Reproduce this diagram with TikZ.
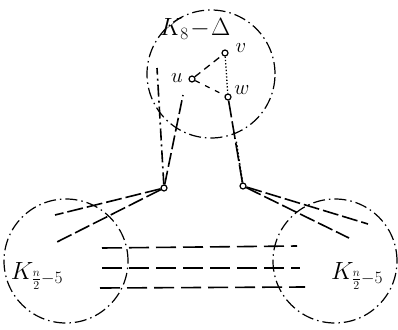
\documentclass[tikz,border=0pt]{standalone}
\begin{document}
\begin{tikzpicture}[x=1pt, y=-1pt, line width=1.6pt, >=stealth,
  every node/.style={inner sep=0pt},
  vtx/.style={circle, draw, minimum size=6pt, line width=1.2pt},
  clique/.style={circle, draw, line width=1.2pt, dash pattern=on 12pt off 4pt on 1.5pt off 4pt, minimum size=124pt},
  vlbl/.style={font=\fontsize{21}{25}\selectfont},
  klbl/.style={font=\fontsize{26}{30}\selectfont},
  longdash/.style={dash pattern=on 16pt off 4pt},
  rowdash/.style={dash pattern=on 20pt off 7pt}]
  \useasboundingbox (0,0) rectangle (398,329);

  % the three cliques
  \node[clique, minimum size=128pt] (top) at (211,74) {};
  \node[clique] (left) at (66,261) {};
  \node[clique] (right) at (335,261) {};
  \node[klbl] (ktop) at (195,29) {$K_8\!-\!\Delta$};
  \node[klbl] (kleft) at (37,276) {$K_{\frac{n}{2}-5}$};
  \node[klbl] (kright) at (357,276) {$K_{\frac{n}{2}-5}$};

  % vertices
  \node[vtx] (u) at (192,79) {};
  \node[vtx] (v) at (225,53) {};
  \node[vtx] (w) at (228,97) {};
  \node[vtx] (a) at (164,188) {};
  \node[vtx] (b) at (243,186) {};
  \node[vlbl] (ul) at (177,78) {$u$};
  \node[vlbl] (vl) at (241,48) {$v$};
  \node[vlbl] (wl) at (242,90) {$w$};

  % free ends
  \coordinate (ta) at (157,68);
  \coordinate (tu) at (183,95);
  \coordinate (tb) at (236,140);
  \coordinate (la1) at (55,215);
  \coordinate (la2) at (55,243);
  \coordinate (rb1) at (368,224);
  \coordinate (rb2) at (349,238);
  \coordinate (h1l) at (102,248);
  \coordinate (h1r) at (297,246);
  \coordinate (h2l) at (102,268);
  \coordinate (h2r) at (300,268);
  \coordinate (h3l) at (100,288);
  \coordinate (h3r) at (305,287);

  \draw[line width=1.3pt, dash pattern=on 7pt off 5pt] (u) -- (v);
  \draw[line width=1.3pt, dotted] (v) -- (w);
  \draw[line width=1.3pt, dash pattern=on 5pt off 6pt] (u) -- (w);

  \draw[dash pattern=on 12pt off 4pt on 2pt off 4pt] (a) -- (ta);
  \draw[dash pattern=on 14pt off 4pt] (a) -- (tu);
  \draw[dash pattern=on 18pt off 4pt] (b) -- (w);
  \draw[dotted] (b) -- (tb);

  \draw[longdash] (a) -- (la1);
  \draw[longdash] (a) -- (la2);
  \draw[longdash] (b) -- (rb1);
  \draw[longdash] (b) -- (rb2);

  \draw[rowdash] (h1l) -- (h1r);
  \draw[rowdash] (h2l) -- (h2r);
  \draw[rowdash] (h3l) -- (h3r);
\end{tikzpicture}
\end{document}
